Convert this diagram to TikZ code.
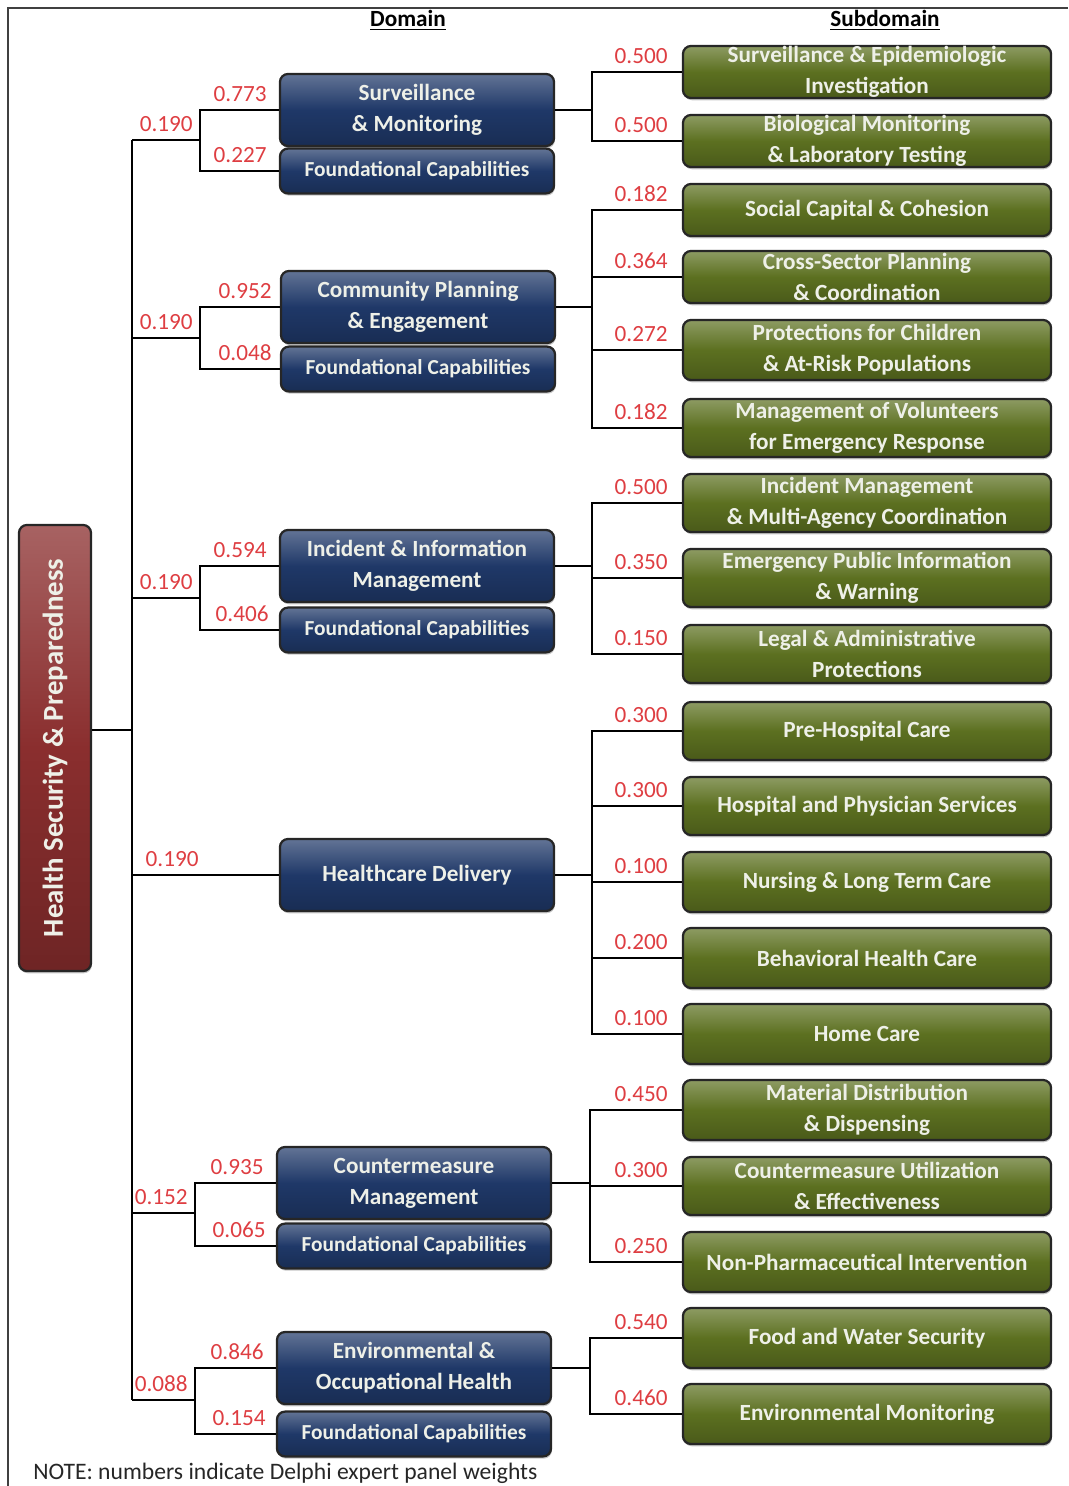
\documentclass[tikz,border=0pt]{standalone}
\usepackage{fontspec}
\setmainfont{Carlito}
\usepackage{tikz}
\usetikzlibrary{shadows}
\definecolor{domblue}{RGB}{31,56,104}
\definecolor{subgreen}{RGB}{92,112,32}
\definecolor{rootred}{RGB}{138,46,46}
\definecolor{wtred}{RGB}{222,62,66}
\definecolor{boxtext}{RGB}{238,240,232}
\tikzset{box/.style={rounded corners=0.2cm, draw=black!85, line width=1.6pt,
    text=boxtext, font=\fontsize{16.5}{22}\selectfont\bfseries, align=center, inner sep=0pt,
    drop shadow={shadow xshift=0.6pt, shadow yshift=-1.6pt, opacity=0.45}}}
\tikzset{dom/.style={box, top color=domblue!70!white, bottom color=domblue!80!black,
    middle color=domblue, minimum width=6.85cm, minimum height=1.8cm}}
\tikzset{found/.style={dom, minimum height=1.12cm, font=\fontsize{15.2}{18}\selectfont\bfseries}}
\tikzset{sub/.style={box, top color=subgreen!70!white, bottom color=subgreen!80!black,
    middle color=subgreen, minimum width=9.2cm, minimum height=1.45cm}}
\tikzset{wt/.style={text=wtred, font=\fontsize{16.5}{20}\selectfont, inner sep=0pt, anchor=south east}}
\tikzset{conn/.style={line width=2pt, black}}

\begin{document}
\begin{tikzpicture}[x=0.025cm, y=-0.025cm]
	\useasboundingbox (0,0) rectangle (1068,1486);
	\draw[line width=1pt, black!75] (8,1486) -- (8,8) -- (1068,8);
	% headers
	\node[font=\fontsize{16.5}{20}\selectfont\bfseries] (hdom) at (408,20) {\underline{Domain}};
	\node[font=\fontsize{16.5}{20}\selectfont\bfseries] (hsub) at (885,20) {\underline{Subdomain}};
	% root
	\node[box, rotate=90, top color=rootred!75!white, bottom color=rootred!80!black, middle color=rootred,
		minimum width=11.15cm, minimum height=1.8cm, font=\fontsize{20.5}{24}\selectfont\bfseries] (root) at (55,748) {Health Security \& Preparedness};
	% domains
	\node[dom] (s1) at (417,110) {Surveillance\\\& Monitoring};
	\node[found] (f1) at (417,171) {Foundational Capabilities};
	\node[dom] (s2) at (418,307) {Community Planning\\\& Engagement};
	\node[found] (f2) at (418,369) {Foundational Capabilities};
	\node[dom] (s3) at (417,566) {Incident \& Information\\Management};
	\node[found] (f3) at (417,630) {Foundational Capabilities};
	\node[dom] (s4) at (417,875) {Healthcare Delivery};
	\node[dom] (s5) at (414,1183) {Countermeasure\\Management};
	\node[found] (f5) at (414,1246) {Foundational Capabilities};
	\node[dom] (s6) at (414,1368) {Environmental \&\\Occupational Health};
	\node[found] (f6) at (414,1434) {Foundational Capabilities};
	% subdomains
	\node[sub, minimum height=1.3cm] (u11) at (867,72) {Surveillance \& Epidemiologic\\Investigation};
	\node[sub, minimum height=1.3cm] (u12) at (867,141) {Biological Monitoring\\\& Laboratory Testing};
	\node[sub, minimum height=1.3cm] (u21) at (867,210) {Social Capital \& Cohesion};
	\node[sub, minimum height=1.3cm] (u22) at (867,277) {Cross-Sector Planning\\\& Coordination};
	\node[sub, minimum height=1.5cm] (u23) at (867,350) {Protections for Children\\\& At-Risk Populations};
	\node[sub] (u24) at (867,428) {Management of Volunteers\\for Emergency Response};
	\node[sub] (u31) at (867,503) {Incident Management\\\& Multi-Agency Coordination};
	\node[sub] (u32) at (867,578) {Emergency Public Information\\\& Warning};
	\node[sub] (u33) at (867,654) {Legal \& Administrative\\Protections};
	\node[sub] (u41) at (867,731) {Pre-Hospital Care};
	\node[sub] (u42) at (867,806) {Hospital and Physician Services};
	\node[sub, minimum height=1.5cm] (u43) at (867,882) {Nursing \& Long Term Care};
	\node[sub, minimum height=1.5cm] (u44) at (867,958) {Behavioral Health Care};
	\node[sub, minimum height=1.5cm] (u45) at (867,1034) {Home Care};
	\node[sub, minimum height=1.5cm] (u51) at (867,1110) {Material Distribution\\\& Dispensing};
	\node[sub] (u52) at (867,1186) {Countermeasure Utilization\\\& Effectiveness};
	\node[sub, minimum height=1.5cm] (u53) at (867,1262) {Non-Pharmaceutical Intervention};
	\node[sub, minimum height=1.5cm] (u61) at (867,1338) {Food and Water Security};
	\node[sub, minimum height=1.5cm] (u62) at (867,1414) {Environmental Monitoring};
	% root to domains
	\coordinate (hub) at (132,730);
	\coordinate (b1) at (200,140);
	\coordinate (b2) at (200,338);
	\coordinate (b3) at (200,598);
	\coordinate (b5) at (195,1213);
	\coordinate (b6) at (195,1400);
	\draw[conn] (root.south |- hub) -- (hub);
	\draw[conn] (b1 -| hub) -- (b6 -| hub);
	\draw[conn] (b1 -| hub) -- (b1);
	\draw[conn] (b2 -| hub) -- (b2);
	\draw[conn] (b3 -| hub) -- (b3);
	\draw[conn] (s4.west -| hub) -- (s4.west);
	\draw[conn] (b5 -| hub) -- (b5);
	\draw[conn] (b6 -| hub) -- (b6);
	\draw[conn] (s1.west) -| (b1);
	\draw[conn] (f1.west) -| (b1);
	\draw[conn] (s2.west) -| (b2);
	\draw[conn] (f2.west) -| (b2);
	\draw[conn] (s3.west) -| (b3);
	\draw[conn] (f3.west) -| (b3);
	\draw[conn] (s5.west) -| (b5);
	\draw[conn] (f5.west) -| (b5);
	\draw[conn] (s6.west) -| (b6);
	\draw[conn] (f6.west) -| (b6);
	% domains to subdomains
	\coordinate (c1) at (592,110);
	\coordinate (c2) at (592,307);
	\coordinate (c3) at (592,566);
	\coordinate (c4) at (592,875);
	\coordinate (c5) at (590,1183);
	\coordinate (c6) at (590,1368);
	\draw[conn] (s1.east) -- (c1);
	\draw[conn] (u11.west) -| (c1);
	\draw[conn] (u12.west) -| (c1);
	\draw[conn] (s2.east) -- (c2);
	\draw[conn] (u21.west) -| (c2);
	\draw[conn] (u22.west) -| (c2);
	\draw[conn] (u23.west) -| (c2);
	\draw[conn] (u24.west) -| (c2);
	\draw[conn] (s3.east) -- (c3);
	\draw[conn] (u31.west) -| (c3);
	\draw[conn] (u32.west) -| (c3);
	\draw[conn] (u33.west) -| (c3);
	\draw[conn] (s4.east) -- (c4);
	\draw[conn] (u41.west) -| (c4);
	\draw[conn] (u42.west) -| (c4);
	\draw[conn] (u43.west) -| (c4);
	\draw[conn] (u44.west) -| (c4);
	\draw[conn] (u45.west) -| (c4);
	\draw[conn] (s5.east) -- (c5);
	\draw[conn] (u51.west) -| (c5);
	\draw[conn] (u52.west) -| (c5);
	\draw[conn] (u53.west) -| (c5);
	\draw[conn] (s6.east) -- (c6);
	\draw[conn] (u61.west) -| (c6);
	\draw[conn] (u62.west) -| (c6);
	% weights
	\node[wt] (w1) at ([shift={(-7,-8)}]b1) {0.190};
	\node[wt] (w2) at ([shift={(-7,-8)}]b2) {0.190};
	\node[wt] (w3) at ([shift={(-7,-8)}]b3) {0.190};
	\node[wt] (w4) at ([shift={(-80,-8)}]s4.west) {0.190};
	\node[wt] (w5) at ([shift={(-7,-8)}]b5) {0.152};
	\node[wt] (w6) at ([shift={(-7,-8)}]b6) {0.088};
	\node[wt] (ws1) at ([shift={(-12,-8)}]s1.west) {0.773};
	\node[wt] (wf1) at ([shift={(-12,-8)}]f1.west) {0.227};
	\node[wt] (ws2) at ([shift={(-8,-8)}]s2.west) {0.952};
	\node[wt] (wf2) at ([shift={(-8,-8)}]f2.west) {0.048};
	\node[wt] (ws3) at ([shift={(-12,-8)}]s3.west) {0.594};
	\node[wt] (wf3) at ([shift={(-10,-8)}]f3.west) {0.406};
	\node[wt] (ws5) at ([shift={(-12,-8)}]s5.west) {0.935};
	\node[wt] (wf5) at ([shift={(-10,-8)}]f5.west) {0.065};
	\node[wt] (ws6) at ([shift={(-12,-8)}]s6.west) {0.846};
	\node[wt] (wf6) at ([shift={(-10,-8)}]f6.west) {0.154};
	\node[wt] (wu11) at ([shift={(-14,-8)}]u11.west) {0.500};
	\node[wt] (wu12) at ([shift={(-14,-8)}]u12.west) {0.500};
	\node[wt] (wu21) at ([shift={(-14,-8)}]u21.west) {0.182};
	\node[wt] (wu22) at ([shift={(-14,-8)}]u22.west) {0.364};
	\node[wt] (wu23) at ([shift={(-14,-8)}]u23.west) {0.272};
	\node[wt] (wu24) at ([shift={(-14,-8)}]u24.west) {0.182};
	\node[wt] (wu31) at ([shift={(-14,-8)}]u31.west) {0.500};
	\node[wt] (wu32) at ([shift={(-14,-8)}]u32.west) {0.350};
	\node[wt] (wu33) at ([shift={(-14,-8)}]u33.west) {0.150};
	\node[wt] (wu41) at ([shift={(-14,-8)}]u41.west) {0.300};
	\node[wt] (wu42) at ([shift={(-14,-8)}]u42.west) {0.300};
	\node[wt] (wu43) at ([shift={(-14,-8)}]u43.west) {0.100};
	\node[wt] (wu44) at ([shift={(-14,-8)}]u44.west) {0.200};
	\node[wt] (wu45) at ([shift={(-14,-8)}]u45.west) {0.100};
	\node[wt] (wu51) at ([shift={(-14,-8)}]u51.west) {0.450};
	\node[wt] (wu52) at ([shift={(-14,-8)}]u52.west) {0.300};
	\node[wt] (wu53) at ([shift={(-14,-8)}]u53.west) {0.250};
	\node[wt] (wu61) at ([shift={(-14,-8)}]u61.west) {0.540};
	\node[wt] (wu62) at ([shift={(-14,-8)}]u62.west) {0.460};
	% note
	\node[anchor=west, inner sep=0pt, text=black!85, font=\fontsize{16.8}{20}\selectfont] (note) at (33,1473) {NOTE: numbers indicate Delphi expert panel weights};
\end{tikzpicture}
\end{document}
